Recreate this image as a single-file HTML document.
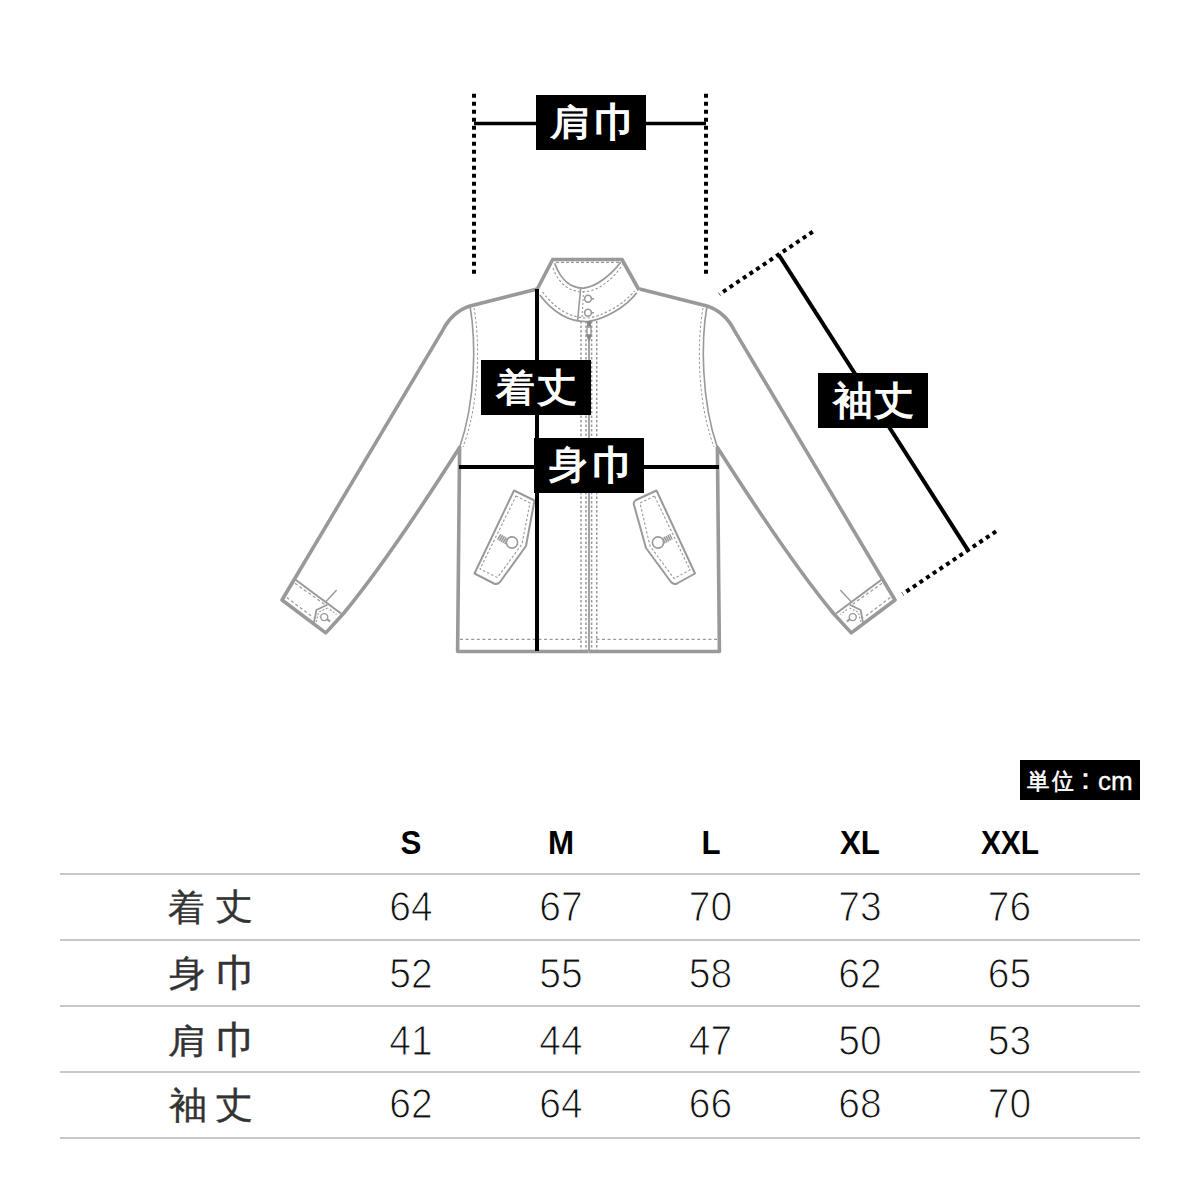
<!DOCTYPE html>
<html><head><meta charset="utf-8">
<style>
html,body{margin:0;padding:0;background:#fff;}
body{width:1200px;height:1200px;position:relative;overflow:hidden;font-family:"Liberation Sans",sans-serif;}
svg{position:absolute;left:0;top:0;}
.g{position:absolute;font-size:100px;line-height:100px;transform-origin:0 0;white-space:nowrap;}
.box{position:absolute;background:#000;}
.hl{position:absolute;left:60px;width:1080px;height:2px;background:#c8c8c8;}
.hd{position:absolute;width:120px;margin-left:-60px;text-align:center;font-size:34px;font-weight:bold;color:#000;line-height:40px;top:822px;transform:scaleX(0.92);}
.num{position:absolute;width:120px;margin-left:-60px;text-align:center;font-size:39px;color:#111;line-height:40px;-webkit-text-stroke:1px #fff;transform:scaleY(1.1);}
.cm{position:absolute;left:1098px;top:765.5px;font-size:26px;line-height:30px;color:#fff;-webkit-text-stroke:0.35px #fff;}
</style></head><body>

<svg width="1200" height="720" viewBox="0 0 1200 720">
<g fill="none" stroke="#999" stroke-linejoin="round">
  <g id="half">
    <!-- outer outline -->
    <path d="M537.3 289 L470 306 C458 310 449 318 442.7 330.3 L282 600 L325.75 632.9 L343.5 613.5 Q387.5 560.5 459.6 447.5 L457.6 651.5 L588.5 651.5" stroke-width="3.6"/>
    <!-- armhole seam -->
    <path d="M470 306 C476 340 476 400 459.6 447.5" stroke-width="1.6"/>
    <path d="M474 308 C480 342 480 402 463 447" stroke-width="1" stroke-dasharray="2.5 2"/>
    <!-- cuff -->
    <path d="M294.6 579 L341 613.5" stroke-width="2"/>
    <path d="M295 583.3 L325 604.6" stroke-width="1.2" stroke-dasharray="3 2.5"/>
    <path d="M286.7 597.5 L313.3 617.5" stroke-width="1.2" stroke-dasharray="3 2.5"/>
    <path d="M325.8 601.7 L336.7 590" stroke-width="1.4"/>
    <path d="M327.25 604.75 L316.4 610 L313.8 623.5" stroke-width="1.8"/>
    <path d="M327.5 608 L318.5 612.3 L316.3 622" stroke-width="1.1" stroke-dasharray="2 1.6"/>
    <path d="M330 609.5 L336.5 614.5" stroke-width="1.1" stroke-dasharray="2 1.6"/>
    <circle cx="324.25" cy="617.1" r="3.5" stroke-width="1.4"/><path d="M327 619 L330 621.5" stroke-width="2.2"/>
    <!-- hem -->
    <path d="M460 639.3 L581 639.3" stroke-width="1.2" stroke-dasharray="3 2.6"/>
  </g>
  <use href="#half" transform="translate(1177 0) scale(-1 1)"/>
  <!-- collar -->
  <path d="M537.3 289 L552.7 259.5 L622 259.5 L639 290" stroke-width="3.6"/>
  <path d="M554.7 263.3 C561 281 572 288.5 584 288 C596 287 611 275 620.7 262.3" stroke-width="1.8"/>
  <path d="M556 262.3 L620 262.3" stroke-width="1.2" stroke-dasharray="3 2"/>
  <path d="M553 268 C559 285 571 292.3 584 291.8 C597 291.3 613 280 622.5 264.5" stroke-width="1.1" stroke-dasharray="2.5 2"/>
  <path d="M539.8 295 C552 311 568 322.5 588.5 321.5 C605 319 626 307 636.7 292.7" stroke-width="1.8"/>
  <path d="M542.5 292 C554 307 569 318.5 588.5 318 C604 315.5 624 304 634.5 291" stroke-width="1.2" stroke-dasharray="2.5 2"/>
  <!-- placket -->
  <path d="M580.7 288 L577.7 320" stroke-width="1.6"/>
  <path d="M583.5 291 L582 319" stroke-width="1.1" stroke-dasharray="2 2"/>
  <circle cx="588" cy="298.7" r="3.4" stroke-width="1.6"/>
  <circle cx="588" cy="312.7" r="3.4" stroke-width="1.6"/>
  <path d="M591.5 298.7 L594 298.7 M591.5 312.7 L594 312.7" stroke-width="1.5"/>
  <!-- zipper center -->
  <path d="M589 340 L589 651" stroke-width="1.8"/>
  <path d="M581 321 L581 651 M586 321 L586 651 M591.6 321 L591.6 651 M596.75 321 L596.75 651" stroke-width="1.5" stroke-dasharray="2.5 2"/>
  <path d="M589 321 L589 327" stroke="#888" stroke-width="4"/><rect x="587" y="327" width="4" height="8" stroke="#999" stroke-width="1.4"/><path d="M586.5 335 L591.5 335 L589 341 Z" fill="#888" stroke="#888" stroke-width="1"/>
  <!-- pockets -->
  <path d="M514 490.5 L534.5 500.5 L526 546 L500 582 Q497 585 494 583.5 L474.5 573.5 Z" stroke-width="2"/>
  <path d="M516 496 L530 503 L522 544 L497.5 577.5 L480 569 Z" stroke-width="1.1" stroke-dasharray="2.5 2"/>
  <circle cx="512" cy="542.5" r="5.6" stroke-width="1.6"/>
  <path d="M498.5 536.5 L507 541.5" stroke-width="6.5" stroke="#999" stroke-dasharray="1.6 0.5"/>
  <path d="M656.5 490.5 L636 500 Q633 502 634 505 L646 548 L671 582 Q674 585 677 583.5 L695 573.5 Z" stroke-width="2"/>
  <path d="M654.5 496 L640 503 L650 546 L674 578.5 L690 570 Z" stroke-width="1.1" stroke-dasharray="2.5 2"/>
  <circle cx="658" cy="542.5" r="5.6" stroke-width="1.6"/>
  <path d="M663 541 L671.5 536.5" stroke-width="6" stroke="#999" stroke-dasharray="1.6 0.5"/>
</g>
<g fill="none" stroke="#000">
  <path d="M474 93.75 L474 275" stroke-width="4" stroke-dasharray="4 4"/>
  <path d="M706 93.75 L706 275" stroke-width="4" stroke-dasharray="4 4"/>
  <path d="M474 123.5 L706 123.5" stroke-width="3.6"/>
  <path d="M537 289 L537 651" stroke-width="4"/>
  <path d="M459 467 L719 467" stroke-width="4"/>
  <path d="M778.7 254.7 L968.7 551.3" stroke-width="4"/>
  <path d="M719.30 294.32 L812.96 231.59" stroke-width="4" stroke-dasharray="4 4" stroke-dashoffset="3.5"/>
  <path d="M902.60 594.02 L996.56 530.99" stroke-width="4" stroke-dasharray="4 4" stroke-dashoffset="3.5"/>
</g>
</svg>
<div class="box" style="left:536px;top:95px;width:110px;height:55px"></div>
<div class="box" style="left:481px;top:360px;width:110px;height:55px"></div>
<div class="box" style="left:534px;top:438px;width:110px;height:55px"></div>
<div class="box" style="left:818px;top:373px;width:110px;height:55px"></div>
<div class="box" style="left:1020px;top:760px;width:120px;height:40px"></div>
<span class="g" style="left:550.45px;top:105.20px;transform:scale(0.4167,0.3571);color:#fff;-webkit-text-stroke:3.0px #fff;">肩</span>
<span class="g" style="left:593.61px;top:102.25px;transform:scale(0.4347,0.4000);color:#fff;-webkit-text-stroke:3.0px #fff;">巾</span>
<span class="g" style="left:495.92px;top:368.89px;transform:scale(0.3874,0.3795);color:#fff;-webkit-text-stroke:3.0px #fff;">着</span>
<span class="g" style="left:537.42px;top:367.75px;transform:scale(0.3976,0.3872);color:#fff;-webkit-text-stroke:3.0px #fff;">丈</span>
<span class="g" style="left:549.04px;top:444.84px;transform:scale(0.3858,0.3914);color:#fff;-webkit-text-stroke:3.0px #fff;">身</span>
<span class="g" style="left:591.61px;top:445.25px;transform:scale(0.4347,0.4000);color:#fff;-webkit-text-stroke:3.0px #fff;">巾</span>
<span class="g" style="left:833.31px;top:380.63px;transform:scale(0.3954,0.3884);color:#fff;-webkit-text-stroke:3.0px #fff;">袖</span>
<span class="g" style="left:874.42px;top:380.75px;transform:scale(0.3976,0.3872);color:#fff;-webkit-text-stroke:3.0px #fff;">丈</span>
<span class="g" style="left:1026.88px;top:769.17px;transform:scale(0.2270,0.2319);color:#fff;-webkit-text-stroke:2.8px #fff;">単</span>
<span class="g" style="left:1051.82px;top:769.17px;transform:scale(0.2172,0.2296);color:#fff;-webkit-text-stroke:2.8px #fff;">位</span>
<span class="g" style="left:1069.33px;top:762.33px;transform:scale(0.3333,0.3137);color:#fff;">：</span>
<div class="cm">cm</div>
<span class="g" style="left:168.45px;top:888.68px;transform:scale(0.3684,0.3622);color:#333;-webkit-text-stroke:1.0px #333;">着</span>
<span class="g" style="left:214.77px;top:888.10px;transform:scale(0.3834,0.3644);color:#333;-webkit-text-stroke:1.0px #333;">丈</span>
<span class="g" style="left:168.69px;top:954.10px;transform:scale(0.3671,0.3726);color:#333;-webkit-text-stroke:1.0px #333;">身</span>
<span class="g" style="left:216.03px;top:954.47px;transform:scale(0.4173,0.3763);color:#333;-webkit-text-stroke:1.0px #333;">巾</span>
<span class="g" style="left:168.18px;top:1023.94px;transform:scale(0.4015,0.3446);color:#333;-webkit-text-stroke:1.0px #333;">肩</span>
<span class="g" style="left:216.03px;top:1021.16px;transform:scale(0.4173,0.3806);color:#333;-webkit-text-stroke:1.0px #333;">巾</span>
<span class="g" style="left:168.56px;top:1087.35px;transform:scale(0.3805,0.3695);color:#333;-webkit-text-stroke:1.0px #333;">袖</span>
<span class="g" style="left:214.99px;top:1087.38px;transform:scale(0.3789,0.3692);color:#333;-webkit-text-stroke:1.0px #333;">丈</span>
<div class="hd" style="left:411px;transform:scaleX(0.92)">S</div>
<div class="hd" style="left:561px;transform:scaleX(0.92)">M</div>
<div class="hd" style="left:710.5px;transform:scaleX(0.92)">L</div>
<div class="hd" style="left:860px;transform:scaleX(0.92)">XL</div>
<div class="hd" style="left:1009.5px;transform:scaleX(0.88)">XXL</div>
<div class="hl" style="top:873px"></div>
<div class="hl" style="top:939px"></div>
<div class="hl" style="top:1005px"></div>
<div class="hl" style="top:1071px"></div>
<div class="hl" style="top:1137px"></div>
<div class="num" style="left:411px;top:887px">64</div>
<div class="num" style="left:561px;top:887px">67</div>
<div class="num" style="left:710.5px;top:887px">70</div>
<div class="num" style="left:860px;top:887px">73</div>
<div class="num" style="left:1009.5px;top:887px">76</div>
<div class="num" style="left:411px;top:954px">52</div>
<div class="num" style="left:561px;top:954px">55</div>
<div class="num" style="left:710.5px;top:954px">58</div>
<div class="num" style="left:860px;top:954px">62</div>
<div class="num" style="left:1009.5px;top:954px">65</div>
<div class="num" style="left:411px;top:1021px">41</div>
<div class="num" style="left:561px;top:1021px">44</div>
<div class="num" style="left:710.5px;top:1021px">47</div>
<div class="num" style="left:860px;top:1021px">50</div>
<div class="num" style="left:1009.5px;top:1021px">53</div>
<div class="num" style="left:411px;top:1084px">62</div>
<div class="num" style="left:561px;top:1084px">64</div>
<div class="num" style="left:710.5px;top:1084px">66</div>
<div class="num" style="left:860px;top:1084px">68</div>
<div class="num" style="left:1009.5px;top:1084px">70</div>
</body></html>
